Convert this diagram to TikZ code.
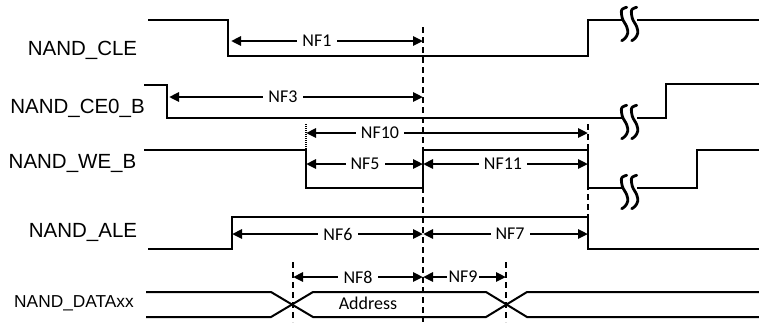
\documentclass[tikz,border=0pt]{standalone}
\usepackage{fontspec}
\setmainfont{Liberation Sans}
\newfontfamily\calfont{Carlito}
\usetikzlibrary{arrows.meta}
\begin{document}
\begin{tikzpicture}[x=1pt,y=-1pt,
  sig/.style={line width=2pt},
  meas/.style={line width=2.5pt,{Triangle[length=10pt,width=9pt]}-{Triangle[length=10pt,width=9pt]}},
  lab/.style={fill=white,inner xsep=5pt,inner ysep=2pt,font=\calfont\fontsize{18}{20}\selectfont},
  signame/.style={anchor=base,inner sep=0pt,font=\fontsize{20.5}{24}\selectfont},
  guide/.style={line width=2pt,dash pattern=on 6pt off 4pt},
  brk/.pic={
    \draw[line width=2.8pt,line cap=round,line join=round] plot[smooth,tension=0.6] coordinates {(5.7,-12.7) (0.7,-10) (1.3,-1.7) (5.7,6.7) (6.7,13.3) (4,18.3) (0.7,20.7)};
    \draw[line width=2.8pt,line cap=round,line join=round] plot[smooth,tension=0.6] coordinates {(15.7,-12.7) (10.7,-10) (11.3,-1.7) (15.7,6.7) (16.7,13.3) (14,18.3) (10.7,20.7)};
  }]
\useasboundingbox (0,0) rectangle (759,322);

% signal names
\node[signame] (nCLE) at (82.5,55) {NAND\_CLE};
\node[signame] (nCE) at (77.5,113) {NAND\_CE0\_B};
\node[signame] (nWE) at (72.5,168) {NAND\_WE\_B};
\node[signame] (nALE) at (83,237) {NAND\_ALE};
\node[signame,font=\fontsize{17.3}{20}\selectfont] (nDATA) at (74,307) {NAND\_DATAxx};

% guide lines
\coordinate (g0t) at (423,27);  \coordinate (g0b) at (423,322);
\coordinate (g1t) at (293,262); \coordinate (g1b) at (293,322);
\coordinate (g2t) at (506,262); \coordinate (g2b) at (506,322);
\coordinate (g3t) at (588,124); \coordinate (g3b) at (588,217);
\coordinate (g4t) at (306,124); \coordinate (g4b) at (306,150);
\draw[guide] (g0t) -- (g0b);
\draw[guide] (g1t) -- (g1b);
\draw[guide] (g2t) -- (g2b);
\draw[guide] (g3t) -- (g3b);
\draw[line width=2pt,dash pattern=on 1pt off 1pt] (g4t) -- (g4b);

% CLE
\draw[sig] (148,20) -- (228,20) -- (228,56) -- (588,56) -- (588,20) -- (623,20);
\draw[sig] (637,20) -- (759,20);
\pic at (621,20) {brk};
% CE0_B
\draw[sig] (144,85) -- (167,85) -- (167,118) -- (623,118);
\draw[sig] (637,118) -- (666,118) -- (666,84) -- (759,84);
\pic at (621,118) {brk};
% WE_B
\draw[sig] (144,150) -- (306,150) -- (306,188) -- (423,188) -- (423,150) -- (588,150) -- (588,188) -- (623,188);
\draw[sig] (637,188) -- (697,188) -- (697,150) -- (759,150);
\pic at (621,188) {brk};
% ALE
\draw[sig] (148,249) -- (232,249) -- (232,217) -- (588,217) -- (588,249) -- (759,249);
% DATA
\draw[sig] (146,292) -- (271,292) -- (313,317) -- (486,317) -- (527,292) -- (759,292);
\draw[sig] (146,317) -- (271,317) -- (313,292) -- (486,292) -- (527,317) -- (759,317);
\node[lab,fill=none] (addr) at (368,303.5) {Address};

% measurement arrows
\coordinate (a1l) at (231,41);  \coordinate (a1r) at (423,41);
\coordinate (a3l) at (169,97);  \coordinate (a3r) at (423,97);
\coordinate (a10l) at (306,133); \coordinate (a10r) at (588,133);
\coordinate (a5l) at (306,164); \coordinate (a5r) at (423,164);
\coordinate (a11l) at (423,164); \coordinate (a11r) at (588,164);
\coordinate (a6l) at (232,234); \coordinate (a6r) at (423,234);
\coordinate (a7l) at (423,234); \coordinate (a7r) at (588,234);
\coordinate (a8l) at (293,277); \coordinate (a8r) at (423,277);
\coordinate (a9l) at (423,277); \coordinate (a9r) at (506,277);

\draw[meas] (a1l) -- (a1r);
\draw[meas] (a3l) -- (a3r);
\draw[meas] (a10l) -- (a10r);
\draw[meas] (a5l) -- (a5r);
\draw[meas] (a11l) -- (a11r);
\draw[meas] (a6l) -- (a6r);
\draw[meas] (a7l) -- (a7r);
\draw[meas] (a8l) -- (a8r);
\draw[meas] (a9l) -- (a9r);

\node[lab] (nf1) at (317,41) {NF1};
\node[lab] (nf3) at (283,97) {NF3};
\node[lab] (nf10) at (380,133) {NF10};
\node[lab] (nf5) at (365,164) {NF5};
\node[lab] (nf11) at (503,164) {NF11};
\node[lab] (nf6) at (338,234) {NF6};
\node[lab] (nf7) at (510,234) {NF7};
\node[lab] (nf8) at (358,277) {NF8};
\node[lab,inner xsep=1.5pt] (nf9) at (463,277) {NF9};
\end{tikzpicture}
\end{document}
